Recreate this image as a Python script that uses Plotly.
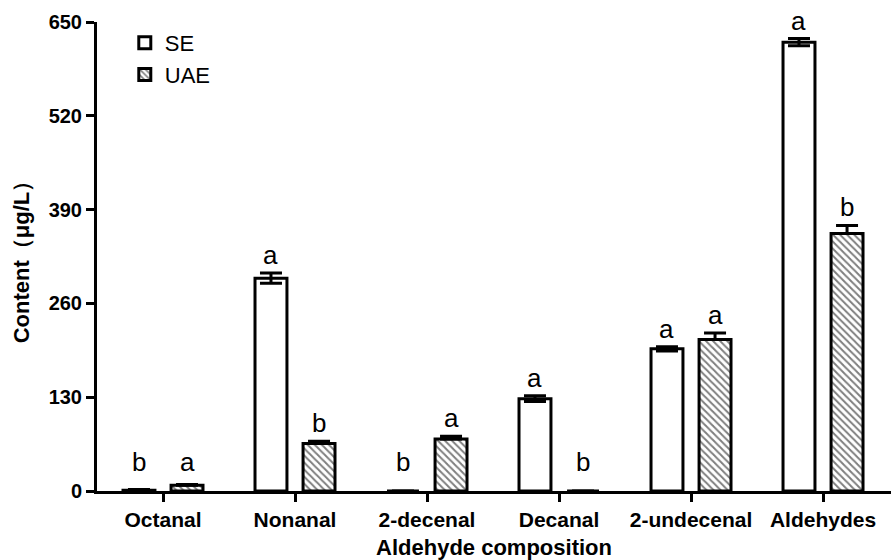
import plotly.graph_objects as go

categories = ["Octanal", "Nonanal", "2-decenal", "Decanal", "2-undecenal", "Aldehydes"]
se_values = [1, 295, 0, 128, 197, 622]
se_errors = [1, 7, 0, 4, 3, 5]
uae_values = [8, 66, 72, 0, 210, 357]
uae_errors = [1, 3, 4, 0, 9, 11]
se_letters = ["b", "a", "b", "a", "a", "a"]
uae_letters = ["a", "b", "a", "b", "a", "b"]
y_ticks = [0, 130, 260, 390, 520, 650]

FONT = "Arial, Liberation Sans, sans-serif"
x_idx = list(range(len(categories)))
offset = 0.182
width = 0.242

fig = go.Figure()
fig.add_trace(go.Bar(
    x=[i - offset for i in x_idx], y=se_values, width=width, name="SE",
    marker=dict(color="white", line=dict(color="black", width=3)),
    error_y=dict(type="data", array=se_errors, visible=True, color="black", thickness=3, width=11),
))
fig.add_trace(go.Bar(
    x=[i + offset for i in x_idx], y=uae_values, width=width, name="UAE",
    marker=dict(color="white", line=dict(color="black", width=3),
                pattern=dict(shape="\\", fgcolor="black", bgcolor="white", size=5, solidity=0.4)),
    error_y=dict(type="data", array=uae_errors, arrayminus=[0]*len(uae_errors), symmetric=False,
                 visible=True, color="black", thickness=3, width=11),
))

annotations = []
for i in x_idx:
    for sign, vals, errs, letters in ((-1, se_values, se_errors, se_letters),
                                      (1, uae_values, uae_errors, uae_letters)):
        base = max(vals[i] + errs[i], 15)
        annotations.append(dict(
            x=i + sign * offset, y=base, text=letters[i], showarrow=False,
            yanchor="bottom", yshift=1, font=dict(family=FONT, size=26, color="black"),
        ))

fig.update_layout(
    width=891, height=560,
    margin=dict(l=97, r=0, t=22, b=69),
    paper_bgcolor="white", plot_bgcolor="white",
    barmode="overlay",
    showlegend=True,
    legend=dict(x=0.035, y=1.0, xanchor="left", yanchor="top",
                font=dict(family=FONT, size=22, color="black"),
                bgcolor="rgba(0,0,0,0)", tracegroupgap=4),
    annotations=annotations,
    xaxis=dict(
        range=[-0.5, 5.515], tickmode="array", tickvals=x_idx, ticktext=categories,
        showline=True, linecolor="black", linewidth=3,
        ticks="outside", ticklen=8, tickwidth=3, tickcolor="black",
        tickfont=dict(family=FONT, size=21, color="black", weight="bold"),
        showgrid=False, zeroline=False,
        title=dict(text="Aldehyde composition", standoff=13,
                   font=dict(family=FONT, size=22, color="black", weight="bold")),
    ),
    yaxis=dict(
        range=[0, 650], tickmode="array", tickvals=y_ticks,
        showline=True, linecolor="black", linewidth=3,
        ticks="outside", ticklen=8, tickwidth=3, tickcolor="black",
        tickfont=dict(family=FONT, size=20, color="black", weight="bold"),
        showgrid=False, zeroline=False,
        title=dict(text="Content（μg/L）", standoff=13,
                   font=dict(family=FONT, size=22, color="black", weight="bold")),
    ),
)

fig.write_html("out.html", config={"displayModeBar": False},
               post_script="document.body.style.margin='0';")
